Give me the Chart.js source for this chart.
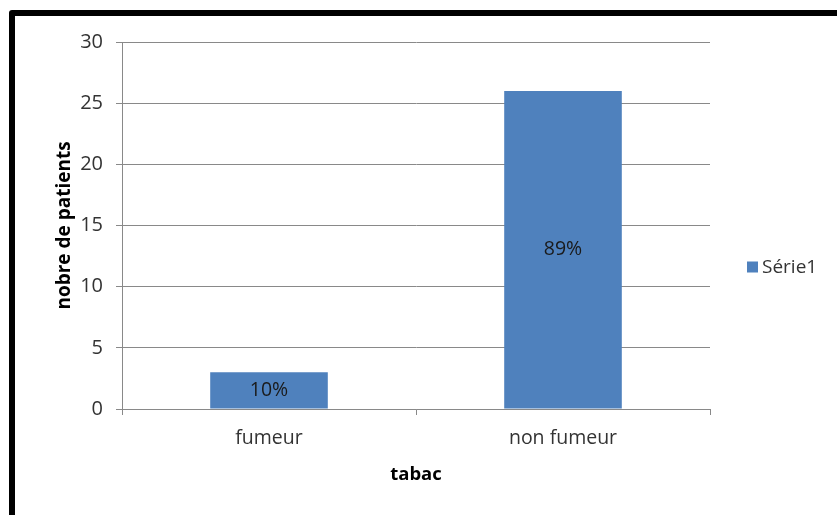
<!DOCTYPE html>
<html>
<head>
<meta charset="utf-8">
<script src="https://cdn.jsdelivr.net/npm/chart.js@4/dist/chart.umd.min.js"></script>
<style>
  html, body { margin: 0; padding: 0; background: #ffffff; }
  #wrap { width: 837px; height: 515px; position: relative; }
</style>
</head>
<body>
<div id="wrap"><canvas id="chart" width="837" height="515"></canvas></div>
<script>
// Patient counts by smoking status
const categories = ['fumeur', 'non fumeur'];
const patients = [3, 26];
const percentLabels = ['10%', '89%'];
const seriesName = 'Série1';
const yTicks = [0, 5, 10, 15, 20, 25, 30];

const FONT = '"Open Sans", "DejaVu Sans", sans-serif';
const BAR_COLOR = '#4f81bd';
const GRID_COLOR = '#898989';
const TEXT_COLOR = '#333333';

// Black frame around the whole figure
const framePlugin = {
  id: 'frame',
  afterDraw(chart) {
    const ctx = chart.ctx;
    ctx.save();
    ctx.strokeStyle = '#000000';
    ctx.lineWidth = 6;
    ctx.lineJoin = 'round';
    ctx.strokeRect(12, 13, chart.width + 20, chart.height + 20);
    ctx.restore();
  }
};

// Percentage text in the middle of each bar
const barLabelPlugin = {
  id: 'barLabels',
  afterDatasetsDraw(chart) {
    const ctx = chart.ctx;
    const meta = chart.getDatasetMeta(0);
    ctx.save();
    ctx.font = '19.5px ' + FONT;
    ctx.fillStyle = '#1a1a1a';
    ctx.textAlign = 'center';
    ctx.textBaseline = 'middle';
    meta.data.forEach((bar, i) => {
      const mid = (bar.y + bar.base) / 2;
      ctx.fillText(percentLabels[i], bar.x, mid);
    });
    ctx.restore();
  }
};

// Legend entry to the right of the plot
const legendPlugin = {
  id: 'sideLegend',
  afterDraw(chart) {
    const ctx = chart.ctx;
    const area = chart.chartArea;
    const ds = chart.data.datasets[0];
    const cy = (area.top + area.bottom) / 2 + 42;
    const x = area.right + 37;
    ctx.save();
    ctx.fillStyle = ds.backgroundColor;
    ctx.fillRect(x, cy - 6, 11, 11);
    ctx.font = '19px ' + FONT;
    ctx.fillStyle = TEXT_COLOR;
    ctx.textAlign = 'left';
    ctx.textBaseline = 'middle';
    ctx.fillText(ds.label, x + 15, cy);
    ctx.restore();
  }
};

new Chart(document.getElementById('chart'), {
  type: 'bar',
  data: {
    labels: categories,
    datasets: [{
      label: seriesName,
      data: patients,
      backgroundColor: BAR_COLOR,
      borderWidth: 0,
      categoryPercentage: 1.0,
      barPercentage: 0.4
    }]
  },
  options: {
    responsive: false,
    animation: false,
    devicePixelRatio: 1,
    layout: { padding: { left: 0, top: 42, right: 127, bottom: 0 } },
    plugins: {
      legend: { display: false },
      tooltip: { enabled: false }
    },
    scales: {
      x: {
        afterFit(scale) { scale.height = 106; },
        grid: {
          offset: true,
          drawOnChartArea: false,
          drawTicks: true,
          tickLength: 6,
          color: GRID_COLOR
        },
        border: { display: true, color: GRID_COLOR },
        ticks: {
          color: TEXT_COLOR,
          font: { family: FONT, size: 19.5 },
          padding: 12
        },
        title: {
          display: true,
          text: 'tabac',
          color: '#000000',
          font: { family: FONT, size: 18.5, weight: 'bold' },
          padding: { top: 0, bottom: 29 }
        }
      },
      y: {
        min: yTicks[0],
        max: yTicks[yTicks.length - 1],
        afterFit(scale) { scale.width = 122; },
        afterBuildTicks(scale) { scale.ticks = yTicks.map(v => ({ value: v })); },
        grid: {
          drawOnChartArea: true,
          drawTicks: true,
          tickLength: 6,
          color: GRID_COLOR
        },
        border: { display: true, color: GRID_COLOR },
        ticks: {
          color: TEXT_COLOR,
          font: { family: FONT, size: 20 },
          padding: 13
        },
        title: {
          display: true,
          text: 'nobre de patients',
          color: '#000000',
          font: { family: FONT, size: 19, weight: 'bold' },
          padding: { top: 53, bottom: 0 }
        }
      }
    }
  },
  plugins: [framePlugin, barLabelPlugin, legendPlugin]
});
</script>
</body>
</html>
